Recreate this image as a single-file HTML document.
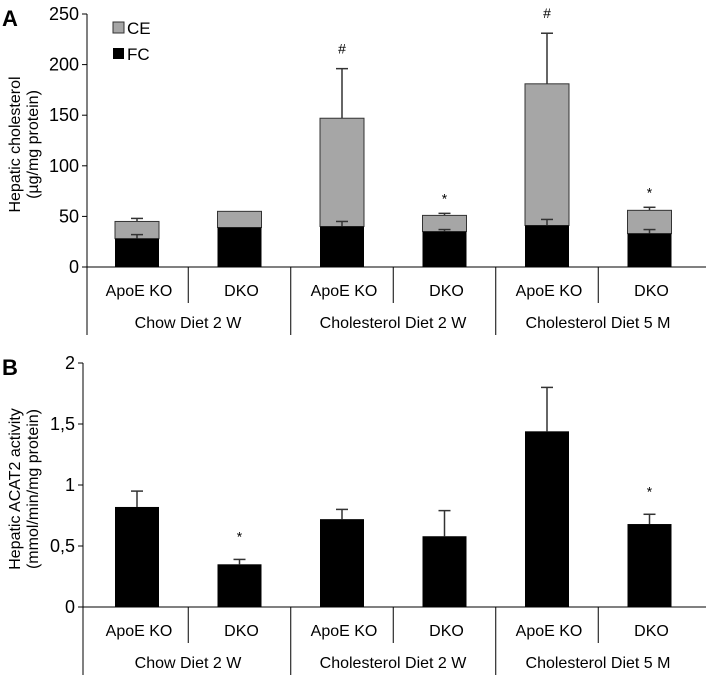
<!DOCTYPE html>
<html><head><meta charset="utf-8"><style>
body{margin:0;background:#fff;width:706px;height:677px;overflow:hidden}
svg{font-family:"Liberation Sans",Arial,sans-serif}
</style></head><body>
<svg width="706" height="677" id="chart"></svg>
<script>
const cats=["ApoE KO","DKO","ApoE KO","DKO","ApoE KO","DKO"];
const groups=["Chow Diet 2 W","Cholesterol Diet 2 W","Cholesterol Diet 5 M"];
const fcA=[28,39,40,35,41,33];
const totA=[45,55,147,51,181,56];
const fcErrA=[32,null,45,37,47,37];
const totErrA=[48,null,196,53,231,59];
const marksA=["","","#","*","#","*"];
const ticksA=[0,50,100,150,200,250];
const acat=[0.82,0.35,0.72,0.58,1.44,0.68];
const acatErr=[0.95,0.39,0.80,0.79,1.80,0.76];
const marksB=["","*","","","","*"];
const ticksB=[0,0.5,1,1.5,2];
const tickLabB=["0","0,5","1","1,5","2"];

const svg=document.getElementById('chart');
const NS="http://www.w3.org/2000/svg";
function mk(t,a,txt){const e=document.createElementNS(NS,t);for(const k in a)e.setAttribute(k,a[k]);if(txt!=null)e.textContent=txt;svg.appendChild(e);return e;}
const cx=i=>137+102.5*i, bw=44;

function panel(o){
  const y=v=>o.y0-(v/o.max)*(o.y0-o.yTop);
  let e=mk('line',{x1:o.ax,y1:o.yTop,x2:o.ax,y2:o.y0,stroke:'#000'});
  
  e=mk('line',{x1:o.ax,y1:o.y0,x2:706,y2:o.y0,stroke:'#000'});
  
  o.ticks.forEach((t,i)=>{
    mk('line',{x1:o.ax-5,y1:y(t),x2:o.ax,y2:y(t),stroke:'#000'});
    e=mk('text',{x:o.ax-8,y:y(t)+6,'text-anchor':'end','font-size':18},o.tl[i]);
    
  });
  for(let i=1;i<6;i++){
    const sx=cx(i)-51.25;
    mk('line',{x1:sx,y1:o.y0,x2:sx,y2:o.y0+(i%2===0?68:36),stroke:'#000'});
  }
  mk('line',{x1:o.ax,y1:o.y0,x2:o.ax,y2:o.y0+68,stroke:'#000'});
  cats.forEach((c,i)=>{e=mk('text',{x:cx(i)+2,y:o.y0+29,'text-anchor':'middle','font-size':16},c);
    });
  groups.forEach((g,i)=>{e=mk('text',{x:cx(2*i)+51,y:o.y0+61,'text-anchor':'middle','font-size':16},g);
    });
  e=mk('text',{x:2,y:o.yTop+12,'font-size':22,'font-weight':'bold'},o.letter);
  
  const tx=20, ty=(o.y0+o.yTop)/2+4;
  e=mk('text',{x:tx,y:ty,transform:`rotate(-90 ${tx} ${ty})`,'text-anchor':'middle','font-size':16},o.t1);
  
  e=mk('text',{x:tx+18,y:ty,transform:`rotate(-90 ${tx+18} ${ty})`,'text-anchor':'middle','font-size':16},o.t2);
  
  return y;
}
function err(x,y1,y2){mk('line',{x1:x,y1:y1,x2:x,y2:y2,stroke:'#333','stroke-width':1.5});mk('line',{x1:x-6,y1:y2,x2:x+6,y2:y2,stroke:'#333','stroke-width':1.5});}

const yA=panel({p:'a',ax:87,y0:267,yTop:14,max:250,ticks:ticksA,tl:ticksA.map(String),letter:'A',t1:'Hepatic cholesterol',t2:'(µg/mg protein)'});
cats.forEach((c,i)=>{
  const x=cx(i)-bw/2;
  if(totErrA[i]!=null)err(cx(i),yA(totA[i]),yA(totErrA[i]));
  let e=mk('rect',{x:x,y:yA(totA[i]),width:bw,height:yA(fcA[i])-yA(totA[i]),fill:'#a6a6a6',stroke:'#333','stroke-width':1});
  
  if(fcErrA[i]!=null)err(cx(i),yA(fcA[i]),yA(fcErrA[i]));
  e=mk('rect',{x:x,y:yA(fcA[i]),width:bw,height:yA(0)-yA(fcA[i]),fill:'#000'});
  
  if(marksA[i]){const top=totErrA[i]!=null?totErrA[i]:totA[i];
    e=mk('text',{x:cx(i),y:yA(top)-(marksA[i]=='#'?15:10),'text-anchor':'middle','font-size':14},marksA[i]);
    }
});
let e=mk('rect',{x:113,y:22,width:11,height:11,fill:'#a6a6a6',stroke:'#333'});

e=mk('text',{x:127,y:34,'font-size':17},'CE');
e=mk('rect',{x:113,y:48,width:11,height:11,fill:'#000'});

e=mk('text',{x:127,y:60,'font-size':17},'FC');

const yB=panel({p:'b',ax:83,y0:607,yTop:363,max:2,ticks:ticksB,tl:tickLabB,letter:'B',t1:'Hepatic ACAT2 activity',t2:'(mmol/min/mg protein)'});
cats.forEach((c,i)=>{
  err(cx(i),yB(acat[i]),yB(acatErr[i]));
  let e=mk('rect',{x:cx(i)-bw/2,y:yB(acat[i]),width:bw,height:yB(0)-yB(acat[i]),fill:'#000'});
  
  if(marksB[i]){e=mk('text',{x:cx(i),y:yB(acatErr[i])-18,'text-anchor':'middle','font-size':14},marksB[i]);
    }
});
</script>
</body></html>
